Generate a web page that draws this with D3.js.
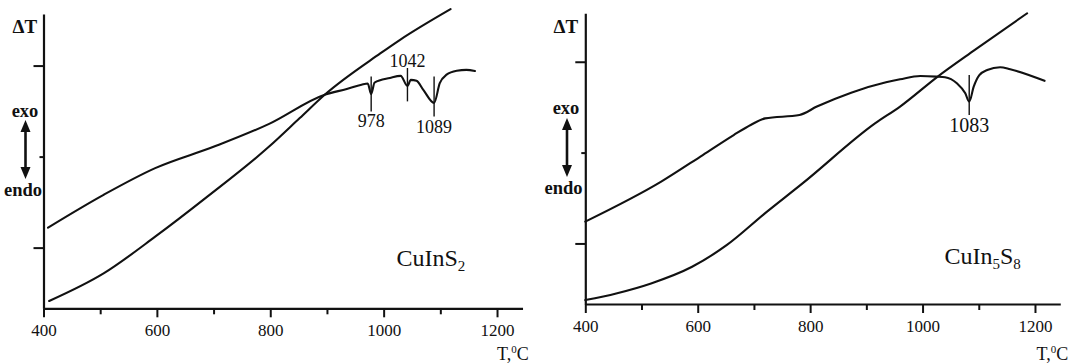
<!DOCTYPE html>
<html>
<head>
<meta charset="utf-8">
<script src="https://cdn.jsdelivr.net/npm/d3@7"></script>
<style>
  html, body { margin: 0; padding: 0; background: #fff; }
  svg { display: block; }
  text { font-family: "Liberation Serif", "Times New Roman", serif; fill: #111; }
</style>
</head>
<body>
<svg id="chart" width="1072" height="363"></svg>
<script>
// ---- Temperature axis (°C) ----
const tempExtent = [400, 1245];
const majorTicks = [400, 600, 800, 1000, 1200];
const minorTicks = [500, 700, 900, 1100];

// ---- ΔT axis (arbitrary units, unlabelled ticks) ----
const dtLongTicks = [20, 80];
const dtShortTicks = [50];

// ---- CuInS2: DTA heating curve [T, ΔT] ----
const cuInS2Dta = [
  [408, 26.6], [506, 37.4], [597, 46.2], [701, 53.3], [798, 60.8], [896, 70.4],
  [935, 72.3], [961, 73.7], [972, 74.1], [978, 70.6], [984, 74.4], [1011, 75.9],
  [1030, 76.6], [1042, 73.3], [1048, 75.3], [1058, 75.0], [1070, 72.0], [1089, 67.7],
  [1099, 74.2], [1111, 77.0], [1129, 78.3], [1146, 78.6], [1161, 78.2]
];
// ---- CuInS2: sample temperature trace [T, ΔT] ----
const cuInS2Temp = [
  [410, 2.4], [506, 11.5], [597, 23.6], [689, 36.8], [798, 53.3], [852, 62.7],
  [896, 70.4], [994, 84.0], [1029, 88.5], [1118, 98.6]
];
// ---- CuInS2: thermal effects ----
const cuInS2Peaks = [978, 1042, 1089];
const cuInS2PeakTop = [76.4, 79.2, 76.4];
const cuInS2PeakBottom = [64.9, 68.2, 63.2];
const cuInS2PeakSide = ["below", "above", "below"];

// ---- CuIn5S8: DTA heating curve [T, ΔT] ----
const cuIn5S8Dta = [
  [400, 27.2], [535, 40.4], [609, 49.2], [664, 55.8], [695, 59.2], [720, 61.3],
  [781, 62.4], [812, 65.2], [873, 69.8], [935, 73.2], [960, 74.2], [996, 75.3],
  [1025, 75.1], [1040, 74.9], [1061, 72.9], [1076, 69.6], [1083, 66.8], [1091, 71.8],
  [1101, 75.6], [1115, 77.3], [1138, 78.2], [1156, 77.5], [1217, 73.7]
];
// ---- CuIn5S8: sample temperature trace [T, ΔT] ----
const cuIn5S8Temp = [
  [400, 1.3], [455, 3.5], [517, 6.8], [590, 12.3], [652, 19.5], [720, 30.0],
  [787, 39.9], [916, 59.7], [960, 65.2], [1027, 75.1], [1093, 83.9], [1186, 96.0]
];
// ---- CuIn5S8: thermal effects ----
const cuIn5S8Peaks = [1083];
const cuIn5S8PeakTop = [75.6];
const cuIn5S8PeakBottom = [62.4];
const cuIn5S8PeakSide = ["below"];

const svg = d3.select("#chart");
const INK = "#111";

const panels = [
  {
    x0: 43.5, pxPer100: 56.69, yBase: 308.3, yTop: 14, dtMax: 97,
    dta: cuInS2Dta, trace: cuInS2Temp,
    peaks: cuInS2Peaks, peakTop: cuInS2PeakTop, peakBottom: cuInS2PeakBottom, peakSide: cuInS2PeakSide,
    peakFont: 18,
    name: [["CuInS", false], ["2", true]], nameX: 396.5, nameY: 266,
    dtX: 12.5, dtY: 33.3,
    exoX: 25, exoY: 116.5, endoX: 23, endoY: 196, arrowX: 25.5, arrowY0: 120, arrowY1: 179,
    unitX: 497, unitY: 360
  },
  {
    x0: 585.3, pxPer100: 56.21, yBase: 304, yTop: 13.3, dtMax: 96,
    dta: cuIn5S8Dta, trace: cuIn5S8Temp,
    peaks: cuIn5S8Peaks, peakTop: cuIn5S8PeakTop, peakBottom: cuIn5S8PeakBottom, peakSide: cuIn5S8PeakSide,
    peakFont: 20,
    name: [["CuIn", false], ["5", true], ["S", false], ["8", true]], nameX: 944.5, nameY: 263.5,
    dtX: 553.5, dtY: 32.5,
    exoX: 566, exoY: 113.5, endoX: 563.5, endoY: 193.5, arrowX: 567, arrowY0: 118, arrowY1: 177,
    unitX: 1036.5, unitY: 360
  }
];

function styleAxis(sel, fontSize) {
  sel.attr("font-family", null).attr("font-size", null);
  sel.select(".domain").attr("stroke", INK).attr("stroke-width", 2.2);
  sel.selectAll(".tick line").attr("stroke", INK).attr("stroke-width", 2);
  sel.selectAll(".tick text")
    .style("font-family", '"Liberation Serif", "Times New Roman", serif')
    .style("font-size", fontSize + "px")
    .attr("fill", INK);
}

panels.forEach(p => {
  const x1 = p.x0 + (tempExtent[1] - tempExtent[0]) * p.pxPer100 / 100;
  const x = d3.scaleLinear().domain(tempExtent).range([p.x0, x1]);
  const y = d3.scaleLinear().domain([0, p.dtMax]).range([p.yBase, p.yTop]);
  const g = svg.append("g");

  // temperature axis: labelled major ticks + short minor ticks
  g.append("g")
    .attr("transform", `translate(0,${p.yBase})`)
    .call(d3.axisBottom(x).tickValues(majorTicks).tickSize(9).tickSizeOuter(0)
      .tickPadding(7).tickFormat(d3.format("d")))
    .call(s => styleAxis(s, 17));
  g.append("g")
    .attr("transform", `translate(0,${p.yBase})`)
    .call(d3.axisBottom(x).tickValues(minorTicks).tickSize(6).tickFormat(""))
    .call(s => { s.select(".domain").remove(); styleAxis(s, 17); });

  // ΔT axis: long and short ticks, no labels
  g.append("g")
    .attr("transform", `translate(${p.x0},0)`)
    .call(d3.axisLeft(y).tickValues(dtLongTicks).tickSize(10).tickSizeOuter(0).tickFormat(""))
    .call(s => styleAxis(s, 17));
  g.append("g")
    .attr("transform", `translate(${p.x0},0)`)
    .call(d3.axisLeft(y).tickValues(dtShortTicks).tickSize(4).tickFormat(""))
    .call(s => { s.select(".domain").remove(); styleAxis(s, 17); });

  // curves
  const line = d3.line().x(d => x(d[0])).y(d => y(d[1])).curve(d3.curveMonotoneX);
  [p.trace, p.dta].forEach(series => {
    g.append("path")
      .attr("d", line(series))
      .attr("fill", "none")
      .attr("stroke", INK)
      .attr("stroke-width", 2.1)
      .attr("stroke-linejoin", "round")
      .attr("stroke-linecap", "round");
  });

  // thermal-effect markers and their temperatures
  p.peaks.forEach((t, i) => {
    const px = x(t);
    const yt = y(p.peakTop[i]);
    const yb = y(p.peakBottom[i]);
    g.append("line")
      .attr("x1", px).attr("x2", px).attr("y1", yt).attr("y2", yb)
      .attr("stroke", INK).attr("stroke-width", 1.4);
    const below = p.peakSide[i] === "below";
    g.append("text")
      .attr("x", px)
      .attr("y", below ? yb + 3 + p.peakFont * 0.72 : yt - 1)
      .attr("text-anchor", "middle")
      .style("font-size", p.peakFont + "px")
      .text(t);
  });

  // compound name with subscripts
  const name = g.append("text")
    .attr("x", p.nameX).attr("y", p.nameY)
    .style("font-size", "24px");
  let shifted = false;
  p.name.forEach(([s, sub]) => {
    const ts = name.append("tspan").text(s);
    if (sub && !shifted) { ts.attr("dy", 5).style("font-size", "15px"); shifted = true; }
    else if (!sub && shifted) { ts.attr("dy", -5); shifted = false; }
    else if (sub) { ts.style("font-size", "15px"); }
  });

  // ΔT label
  g.append("text")
    .attr("x", p.dtX).attr("y", p.dtY)
    .style("font-size", "19px").style("font-weight", "bold")
    .text("ΔT");

  // exo / endo direction
  g.append("text").attr("x", p.exoX).attr("y", p.exoY)
    .attr("text-anchor", "middle").style("font-size", "18.5px").style("font-weight", "bold")
    .text("exo");
  g.append("text").attr("x", p.endoX).attr("y", p.endoY)
    .attr("text-anchor", "middle").style("font-size", "18.5px").style("font-weight", "bold")
    .text("endo");
  const ah = 12, aw = 5;
  g.append("line")
    .attr("x1", p.arrowX).attr("x2", p.arrowX)
    .attr("y1", p.arrowY0 + ah - 2).attr("y2", p.arrowY1 - ah + 2)
    .attr("stroke", INK).attr("stroke-width", 2.6);
  g.append("path")
    .attr("d", `M${p.arrowX},${p.arrowY0} L${p.arrowX + aw},${p.arrowY0 + ah} L${p.arrowX - aw},${p.arrowY0 + ah} Z`)
    .attr("fill", INK);
  g.append("path")
    .attr("d", `M${p.arrowX},${p.arrowY1} L${p.arrowX + aw},${p.arrowY1 - ah} L${p.arrowX - aw},${p.arrowY1 - ah} Z`)
    .attr("fill", INK);

  // temperature unit
  const u = g.append("text").attr("x", p.unitX).attr("y", p.unitY).style("font-size", "18px");
  u.append("tspan").text("T,");
  u.append("tspan").attr("dy", -7).style("font-size", "11px").text("0");
  u.append("tspan").attr("dy", 7).text("C");
});
</script>
</body>
</html>
